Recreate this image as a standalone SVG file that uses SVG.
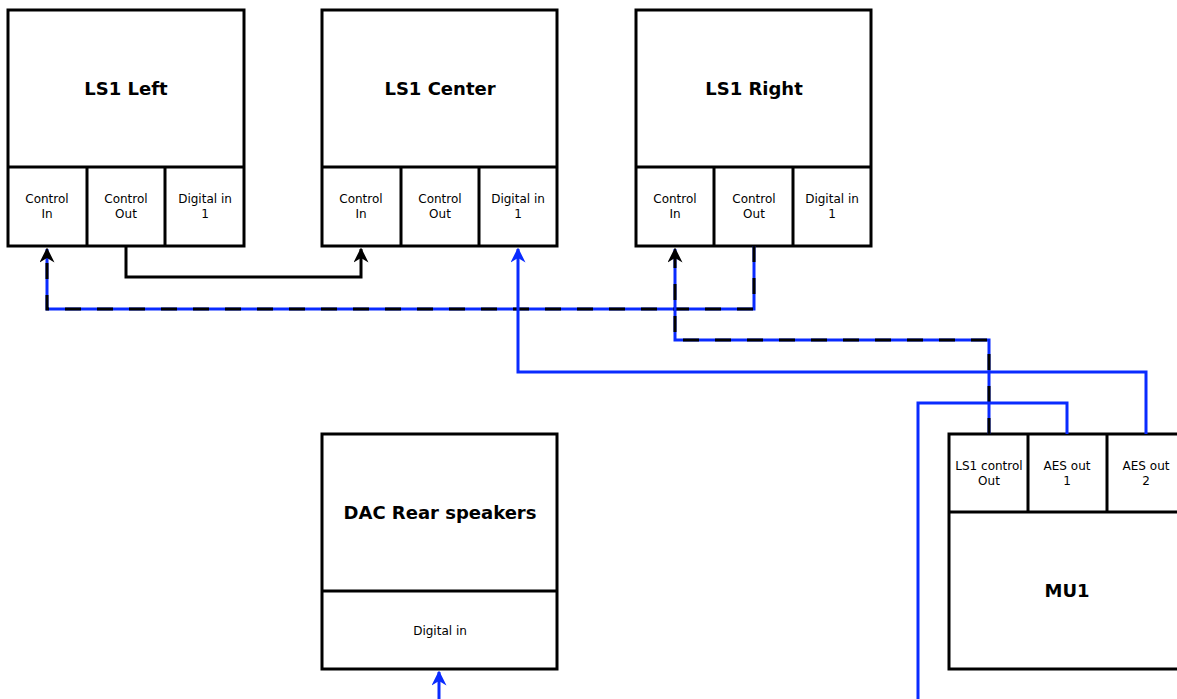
<svg xmlns="http://www.w3.org/2000/svg" width="1177" height="699" viewBox="0 0 1177 699">
<defs>
<style>
.box{fill:#fff;stroke:#000;stroke-width:3}
.div{stroke:#000;stroke-width:3;fill:none}
.title{font-family:"DejaVu Sans",sans-serif;font-weight:bold;font-size:18px;text-anchor:middle;fill:#000}
.port{font-family:"DejaVu Sans",sans-serif;font-size:12px;text-anchor:middle;fill:#000}
.blk{stroke:#000;stroke-width:3;fill:none}
.blu{stroke:#0a2bff;stroke-width:3;fill:none}
.dsh{stroke:#000;stroke-width:3;fill:none;stroke-dasharray:16 16}
</style>
<marker id="ak" viewBox="0 0 10 10" refX="9" refY="5" markerWidth="5" markerHeight="5" orient="auto" markerUnits="userSpaceOnUse">
<path d="M0,0 L10,5 L0,10 L3,5 Z" fill="#000"/>
</marker>
<marker id="ab" viewBox="0 0 10 10" refX="9" refY="5" markerWidth="5" markerHeight="5" orient="auto">
<path d="M0,0 L10,5 L0,10 L3,5 Z" fill="#0a2bff"/>
</marker>
<marker id="ak2" viewBox="0 0 10 10" refX="9" refY="5" markerWidth="5" markerHeight="5" orient="auto">
<path d="M0,0 L10,5 L0,10 L3,5 Z" fill="#000"/>
</marker>
</defs>

<g id="ls1-left">
<rect class="box" x="8" y="10" width="236" height="236"/>
<path class="div" d="M8 167 H244 M87 167 V246 M165 167 V246"/>
<text class="title" x="126" y="95">LS1 Left</text>
<text class="port" x="47" y="203">Control</text><text class="port" x="47" y="218">In</text>
<text class="port" x="126" y="203">Control</text><text class="port" x="126" y="218">Out</text>
<text class="port" x="205" y="203">Digital in</text><text class="port" x="205" y="218">1</text>
</g>

<g id="ls1-center">
<rect class="box" x="322" y="10" width="235" height="236"/>
<path class="div" d="M322 167 H557 M401 167 V246 M479 167 V246"/>
<text class="title" x="440" y="95">LS1 Center</text>
<text class="port" x="361" y="203">Control</text><text class="port" x="361" y="218">In</text>
<text class="port" x="440" y="203">Control</text><text class="port" x="440" y="218">Out</text>
<text class="port" x="518" y="203">Digital in</text><text class="port" x="518" y="218">1</text>
</g>

<g id="ls1-right">
<rect class="box" x="636" y="10" width="235" height="236"/>
<path class="div" d="M636 167 H871 M714 167 V246 M793 167 V246"/>
<text class="title" x="754" y="95">LS1 Right</text>
<text class="port" x="675" y="203">Control</text><text class="port" x="675" y="218">In</text>
<text class="port" x="754" y="203">Control</text><text class="port" x="754" y="218">Out</text>
<text class="port" x="832" y="203">Digital in</text><text class="port" x="832" y="218">1</text>
</g>

<g id="dac">
<rect class="box" x="322" y="434" width="235" height="235"/>
<path class="div" d="M322 591 H557"/>
<text class="title" x="440" y="519">DAC Rear speakers</text>
<text class="port" x="440" y="635">Digital in</text>
</g>

<g id="mu1">
<rect class="box" x="949" y="434" width="236" height="235"/>
<path class="div" d="M949 512 H1185 M1028 434 V512 M1107 434 V512"/>
<text class="title" x="1067" y="597">MU1</text>
<text class="port" x="989" y="470">LS1 control</text><text class="port" x="989" y="485">Out</text>
<text class="port" x="1067" y="470">AES out</text><text class="port" x="1067" y="485">1</text>
<text class="port" x="1146" y="470">AES out</text><text class="port" x="1146" y="485">2</text>
</g>

<g id="connectors">
<path class="blk" d="M126 246 V277 H361 V249" marker-end="url(#ak2)"/>
<path class="blu" d="M754 246 V309 H47 V249"/>
<path class="dsh" d="M754 246 V309 H47 V249" marker-end="url(#ak2)"/>
<path class="blu" d="M989 434 V340 H675 V249"/>
<path class="dsh" d="M989 434 V340 H675 V249" marker-end="url(#ak2)"/>
<path class="blu" d="M1146 434 V372 H518 V249" marker-end="url(#ab)"/>
<path class="blu" d="M1067 434 V403 H918 V699"/>
<path class="blu" d="M439 699 V672" marker-end="url(#ab)"/>
</g>
</svg>
